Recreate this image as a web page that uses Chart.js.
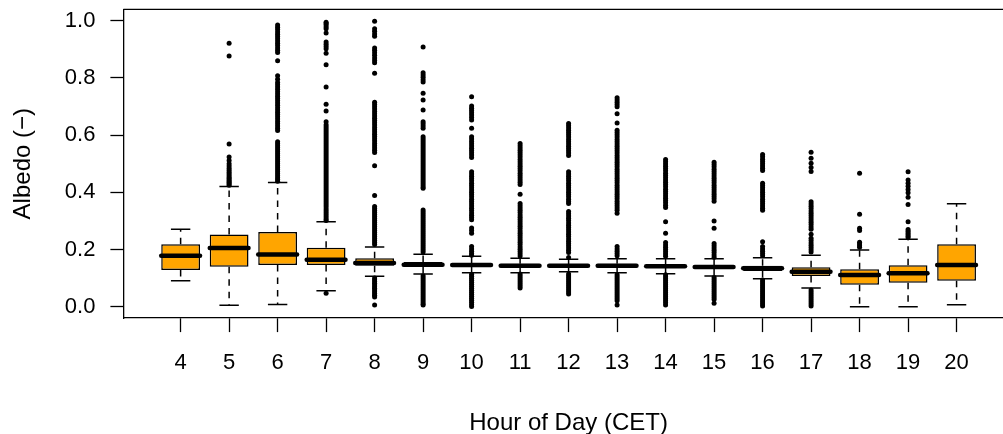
<!DOCTYPE html>
<html><head><meta charset="utf-8">
<script src="https://cdn.jsdelivr.net/npm/chart.js@4.4.1/dist/chart.umd.min.js"></script>
<style>html,body{margin:0;padding:0;background:#fff;overflow:hidden}#wrap{width:1003px;height:434px}</style>
</head><body><div id="wrap"><canvas id="c" width="1003" height="434"></canvas></div>
<script>
const hours = [4,5,6,7,8,9,10,11,12,13,14,15,16,17,18,19,20];
const q1 =          [0.128,0.140,0.146,0.146,0.143,0.140,0.139,0.137,0.138,0.137,0.135,0.132,0.125,0.107,0.077,0.084,0.091];
const median =      [0.178,0.205,0.182,0.164,0.153,0.147,0.146,0.143,0.143,0.143,0.141,0.139,0.134,0.122,0.111,0.117,0.146];
const q3 =          [0.218,0.252,0.261,0.206,0.169,0.156,0.152,0.150,0.149,0.150,0.148,0.146,0.143,0.138,0.131,0.145,0.218];
const whiskerLow =  [0.091,0.005,0.008,0.056,0.106,0.114,0.119,0.119,0.122,0.119,0.115,0.107,0.098,0.065,0.000,0.000,0.007];
const whiskerHigh = [0.271,0.420,0.434,0.297,0.209,0.183,0.176,0.169,0.166,0.168,0.168,0.168,0.171,0.180,0.198,0.236,0.360];
const outliers = [
  [],
  [0.921,0.877,0.569,0.523,0.511,0.500,0.492,0.484,0.477,0.470,0.464,0.458,0.452,0.447,0.442,0.437,0.433,0.429,0.425],
  [0.985,0.977,0.969,0.961,0.953,0.945,0.937,0.929,0.921,0.913,0.905,0.897,0.889,0.860,0.808,0.795,0.784,0.776,0.768,0.760,0.752,0.744,0.736,0.728,0.720,0.712,0.704,0.696,0.688,0.680,0.672,0.664,0.656,0.648,0.640,0.632,0.624,0.616,0.577,0.570,0.563,0.556,0.549,0.542,0.535,0.528,0.521,0.514,0.507,0.500,0.493,0.486,0.479,0.472,0.465,0.458,0.451,0.445,0.439],
  [0.995,0.990,0.985,0.978,0.972,0.957,0.926,0.918,0.910,0.902,0.886,0.846,0.768,0.708,0.684,0.647,0.636,0.629,0.622,0.615,0.608,0.601,0.594,0.587,0.580,0.573,0.566,0.559,0.552,0.545,0.538,0.531,0.524,0.517,0.510,0.503,0.496,0.489,0.482,0.475,0.468,0.461,0.454,0.447,0.440,0.433,0.426,0.419,0.412,0.405,0.398,0.391,0.384,0.377,0.370,0.363,0.356,0.349,0.342,0.335,0.328,0.321,0.314,0.307,0.301,0.047],
  [0.998,0.972,0.963,0.954,0.946,0.905,0.897,0.888,0.879,0.870,0.861,0.853,0.816,0.715,0.707,0.699,0.691,0.683,0.675,0.667,0.659,0.651,0.643,0.635,0.627,0.619,0.611,0.603,0.595,0.587,0.579,0.571,0.563,0.555,0.547,0.539,0.493,0.389,0.350,0.343,0.336,0.329,0.322,0.315,0.308,0.301,0.294,0.287,0.280,0.273,0.266,0.259,0.252,0.245,0.238,0.231,0.224,0.217,0.100,0.094,0.088,0.082,0.076,0.070,0.064,0.058,0.052,0.046,0.040,0.034,0.006],
  [0.908,0.818,0.810,0.802,0.794,0.786,0.746,0.723,0.688,0.647,0.640,0.632,0.624,0.594,0.587,0.580,0.573,0.566,0.559,0.552,0.545,0.538,0.531,0.524,0.517,0.510,0.503,0.496,0.489,0.482,0.475,0.468,0.461,0.454,0.447,0.440,0.433,0.426,0.419,0.414,0.338,0.331,0.324,0.317,0.310,0.303,0.296,0.289,0.282,0.275,0.268,0.261,0.254,0.247,0.240,0.233,0.226,0.219,0.212,0.205,0.198,0.191,0.108,0.101,0.094,0.087,0.080,0.073,0.066,0.059,0.052,0.045,0.038,0.031,0.024,0.017,0.010,0.006],
  [0.734,0.702,0.694,0.686,0.678,0.670,0.662,0.653,0.624,0.594,0.586,0.578,0.570,0.562,0.554,0.546,0.538,0.530,0.522,0.472,0.464,0.456,0.448,0.440,0.432,0.424,0.416,0.408,0.400,0.392,0.384,0.376,0.368,0.360,0.352,0.344,0.336,0.328,0.320,0.312,0.304,0.275,0.266,0.257,0.210,0.202,0.194,0.186,0.180,0.113,0.106,0.099,0.092,0.085,0.078,0.071,0.064,0.057,0.050,0.043,0.036,0.029,0.022,0.015,0.008,0.001],
  [0.571,0.563,0.555,0.547,0.539,0.531,0.523,0.515,0.507,0.499,0.491,0.483,0.475,0.467,0.459,0.451,0.443,0.435,0.427,0.393,0.361,0.353,0.345,0.337,0.329,0.321,0.313,0.305,0.297,0.289,0.281,0.273,0.265,0.257,0.249,0.241,0.233,0.225,0.217,0.209,0.201,0.193,0.185,0.177,0.114,0.107,0.100,0.093,0.086,0.079,0.072,0.065],
  [0.641,0.633,0.625,0.617,0.609,0.601,0.593,0.585,0.577,0.569,0.561,0.553,0.545,0.537,0.529,0.472,0.464,0.456,0.448,0.440,0.432,0.424,0.416,0.408,0.400,0.392,0.384,0.376,0.368,0.361,0.333,0.325,0.317,0.309,0.301,0.293,0.285,0.277,0.269,0.261,0.253,0.245,0.237,0.229,0.221,0.213,0.205,0.197,0.189,0.172,0.114,0.107,0.100,0.093,0.086,0.079,0.072,0.065,0.058,0.051,0.044],
  [0.731,0.723,0.715,0.707,0.699,0.675,0.642,0.617,0.609,0.601,0.593,0.585,0.577,0.569,0.561,0.553,0.545,0.537,0.529,0.521,0.513,0.505,0.497,0.489,0.481,0.473,0.465,0.457,0.449,0.441,0.433,0.425,0.417,0.409,0.401,0.393,0.385,0.377,0.369,0.361,0.353,0.345,0.337,0.327,0.210,0.202,0.194,0.186,0.178,0.112,0.105,0.098,0.091,0.084,0.077,0.070,0.063,0.056,0.049,0.042,0.035,0.028,0.021,0.006],
  [0.515,0.507,0.499,0.491,0.483,0.475,0.467,0.459,0.451,0.443,0.435,0.427,0.419,0.411,0.403,0.395,0.387,0.379,0.371,0.363,0.355,0.347,0.297,0.257,0.224,0.216,0.208,0.200,0.192,0.184,0.176,0.112,0.105,0.098,0.091,0.084,0.077,0.070,0.063,0.056,0.049,0.042,0.035,0.028,0.021,0.014,0.006],
  [0.505,0.497,0.489,0.481,0.473,0.465,0.457,0.449,0.441,0.433,0.425,0.417,0.409,0.401,0.393,0.385,0.377,0.369,0.300,0.274,0.221,0.213,0.205,0.197,0.189,0.181,0.173,0.102,0.095,0.088,0.081,0.074,0.067,0.060,0.053,0.046,0.039,0.032,0.025,0.012],
  [0.532,0.524,0.516,0.508,0.500,0.492,0.484,0.476,0.432,0.424,0.416,0.408,0.400,0.392,0.384,0.376,0.368,0.360,0.352,0.344,0.337,0.227,0.210,0.202,0.194,0.186,0.178,0.093,0.086,0.079,0.072,0.065,0.058,0.051,0.044,0.037,0.030,0.023,0.016,0.009,0.002],
  [0.540,0.519,0.502,0.487,0.473,0.367,0.359,0.351,0.343,0.335,0.327,0.319,0.311,0.303,0.295,0.287,0.279,0.271,0.253,0.239,0.231,0.223,0.215,0.207,0.199,0.191,0.058,0.051,0.044,0.037,0.030,0.023,0.016,0.009,0.002],
  [0.467,0.323,0.274,0.266,0.225,0.219,0.213,0.208],
  [0.472,0.443,0.432,0.421,0.410,0.398,0.383,0.357,0.297,0.270,0.264,0.258,0.252,0.246,0.241],
  []
];
const yTicks = [0.0,0.2,0.4,0.6,0.8,1.0];

const BOX_W = 0.8, STAPLE_W = 0.4;
const PLOT_LEFT = 123.4, PLOT_RIGHT = 1013.8; // plot frame runs past the canvas edge, as in the original
const FONT = "'Liberation Sans', Arial, sans-serif";

const zeroPad = s => { s.paddingTop = 0; s.paddingBottom = 0; s.paddingLeft = 0; s.paddingRight = 0; };

const extras = {
  id: 'boxExtras',
  afterLayout(chart) {
    const x = chart.scales.x, a = chart.chartArea;
    a.right = PLOT_RIGHT; a.width = a.right - a.left;
    x.right = PLOT_RIGHT; x.width = x.right - x.left;
    x.configure();
  },
  beforeDatasetsDraw(chart) {
    const {ctx, chartArea: a} = chart;
    ctx.save();
    ctx.strokeStyle = '#000'; ctx.lineWidth = 1.3;
    ctx.beginPath(); ctx.moveTo(a.left, a.top); ctx.lineTo(a.right, a.top); ctx.stroke();
    ctx.restore();
  },
  afterDatasetDraw(chart, args) {
    if (args.index !== 0) return;
    const {ctx, scales: {x, y}} = chart;
    ctx.save();
    hours.forEach((h, i) => {
      const cx = x.getPixelForValue(i + 1);
      const hb = x.getPixelForValue(i + 1 + BOX_W / 2) - cx;
      const hs = x.getPixelForValue(i + 1 + STAPLE_W / 2) - cx;
      const yq1 = y.getPixelForValue(q1[i]), yq3 = y.getPixelForValue(q3[i]);
      const ylo = y.getPixelForValue(whiskerLow[i]), yhi = y.getPixelForValue(whiskerHigh[i]);
      ctx.strokeStyle = '#000'; ctx.lineWidth = 1.5; ctx.lineCap = 'butt';
      ctx.setLineDash([6.5, 6]);
      ctx.beginPath();
      ctx.moveTo(cx, yq3); ctx.lineTo(cx, yhi);
      ctx.moveTo(cx, yq1); ctx.lineTo(cx, ylo);
      ctx.stroke();
      ctx.setLineDash([]);
      ctx.beginPath();
      ctx.moveTo(cx - hs, yhi); ctx.lineTo(cx + hs, yhi);
      ctx.moveTo(cx - hs, ylo); ctx.lineTo(cx + hs, ylo);
      ctx.stroke();
      const ym = y.getPixelForValue(median[i]);
      ctx.lineWidth = 4.5; ctx.lineCap = 'round';
      ctx.beginPath(); ctx.moveTo(cx - hb, ym); ctx.lineTo(cx + hb, ym); ctx.stroke();
    });
    ctx.restore();
  }
};

new Chart(document.getElementById('c'), {
  type: 'bar',
  data: {
    datasets: [
      {
        type: 'bar',
        data: hours.map((h, i) => ({x: i + 1, y: [q1[i], q3[i]]})),
        backgroundColor: '#FFA500',
        borderColor: '#000',
        borderWidth: 1.5,
        borderSkipped: false,
        barPercentage: BOX_W,
        categoryPercentage: 1,
        order: 1
      },
      {
        type: 'scatter',
        data: outliers.flatMap((arr, i) => arr.map(v => ({x: i + 1, y: v}))),
        pointRadius: 2.5,
        pointBackgroundColor: '#000',
        pointBorderWidth: 0,
        order: 0
      }
    ]
  },
  options: {
    responsive: false,
    animation: false,
    devicePixelRatio: 1,
    layout: {padding: {top: 9.3, right: 0, left: 0, bottom: 0}},
    plugins: {legend: {display: false}, tooltip: {enabled: false}},
    scales: {
      x: {
        type: 'linear', min: -0.18, max: 18.18, offset: false,
        afterFit: s => { s.height = 115.9; zeroPad(s); },
        afterBuildTicks: s => { s.ticks = hours.map((h, i) => ({value: i + 1})); },
        ticks: {
          autoSkip: false, maxRotation: 0, color: '#000', padding: 18,
          font: {family: FONT, size: 22},
          callback: v => hours[Math.round(v) - 1]
        },
        grid: {offset: false, drawOnChartArea: false, drawTicks: true, tickLength: 14, tickColor: '#000', tickWidth: 1.3},
        border: {display: true, color: '#000', width: 1.3},
        title: {display: true, text: 'Hour of Day (CET)', color: '#000', font: {family: FONT, size: 24, lineHeight: 1}, padding: {top: 0, bottom: -1}}
      },
      y: {
        type: 'linear', min: -0.04, max: 1.04,
        afterFit: s => { s.width = PLOT_LEFT; zeroPad(s); },
        afterBuildTicks: s => { s.ticks = yTicks.map(v => ({value: v})); },
        ticks: {
          color: '#000', padding: 15,
          font: {family: FONT, size: 22},
          callback: v => Number(v).toFixed(1)
        },
        grid: {drawOnChartArea: false, drawTicks: true, tickLength: 13, tickColor: '#000', tickWidth: 1.3},
        border: {display: true, color: '#000', width: 1.3},
        title: {display: true, text: 'Albedo (\u2212)', color: '#000', font: {family: FONT, size: 24, lineHeight: 1}, padding: {top: 11, bottom: 0}}
      }
    }
  },
  plugins: [extras]
});
</script>
</body></html>
